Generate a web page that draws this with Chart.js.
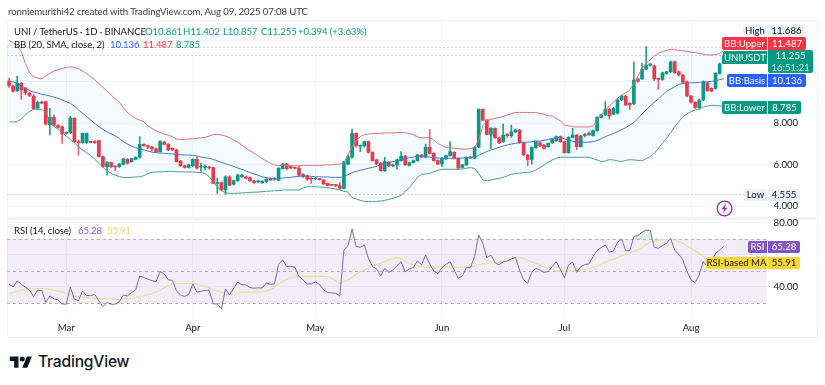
<!DOCTYPE html>
<html>
<head>
<meta charset="utf-8">
<title>UNIUSDT</title>
<script src="https://cdn.jsdelivr.net/npm/chart.js@4/dist/chart.umd.min.js"></script>
<style>
    html, body { margin: 0; padding: 0; background: #fff; }
    body { width: 825px; height: 385px; position: relative; overflow: hidden; font-family: Lato, sans-serif; color: #131722; }
    .t { position: absolute; white-space: nowrap; font-size: 9.6px; letter-spacing: -0.1px; line-height: 12px; }
    .tag { position: absolute; font-size: 9.6px; display: flex; align-items: center; justify-content: center; white-space: nowrap; }
    canvas { position: absolute; left: 0; }
    #panel { position: absolute; left: 7px; top: 20px; width: 811px; height: 318px; border: 1px solid #f1f2f5; box-sizing: border-box; border-radius: 3px; }
    #divider { position: absolute; left: 8px; top: 217px; width: 809px; height: 3px; background: #f1f3f8; }
    #logoText { position: absolute; left: 38px; top: 352px; font-family: Inter, sans-serif; font-weight: 500; font-size: 15.6px; line-height: 20px; letter-spacing: -0.2px; color: #131722; }
</style>
</head>
<body>
<div id="panel"></div>
<div id="divider"></div>
<canvas id="priceChart" width="825" height="207" style="top:12px"></canvas>
<canvas id="rsiChart" width="825" height="126" style="top:212px"></canvas>
<div id="overlay"></div>
<svg style="position:absolute;left:716px;top:200px" width="17" height="17" viewBox="0 0 17 17">
    <circle cx="8.5" cy="8.5" r="7.4" fill="none" stroke="#9c27b0" stroke-width="1.2"/>
    <path d="M10 3.8 L5.6 9.3 H8.1 L7 13.2 L11.4 7.7 H8.9 Z" fill="#9c27b0"/>
</svg>
<svg style="position:absolute;left:9px;top:354px" width="24" height="15" viewBox="0 0 36 24">
    <path d="M14 22H7V11H0V4h14v18zM28 22h-8l7.5-18h8L28 22z" fill="#131722"/>
    <circle cx="20" cy="8" r="4" fill="#131722"/>
</svg>
<div id="logoText">TradingView</div>

<script>
// --- Categories (daily, with empty days to the right of the last candle) ---
const days = [
    '02-15','02-16','02-17','02-18','02-19','02-20','02-21','02-22','02-23','02-24','02-25','02-26','02-27','02-28',
    '03-01','03-02','03-03','03-04','03-05','03-06','03-07','03-08','03-09','03-10','03-11','03-12','03-13','03-14','03-15','03-16','03-17','03-18','03-19','03-20','03-21','03-22','03-23','03-24','03-25','03-26','03-27','03-28','03-29','03-30','03-31',
    '04-01','04-02','04-03','04-04','04-05','04-06','04-07','04-08','04-09','04-10','04-11','04-12','04-13','04-14','04-15','04-16','04-17','04-18','04-19','04-20','04-21','04-22','04-23','04-24','04-25','04-26','04-27','04-28','04-29','04-30',
    '05-01','05-02','05-03','05-04','05-05','05-06','05-07','05-08','05-09','05-10','05-11','05-12','05-13','05-14','05-15','05-16','05-17','05-18','05-19','05-20','05-21','05-22','05-23','05-24','05-25','05-26','05-27','05-28','05-29','05-30','05-31',
    '06-01','06-02','06-03','06-04','06-05','06-06','06-07','06-08','06-09','06-10','06-11','06-12','06-13','06-14','06-15','06-16','06-17','06-18','06-19','06-20','06-21','06-22','06-23','06-24','06-25','06-26','06-27','06-28','06-29','06-30',
    '07-01','07-02','07-03','07-04','07-05','07-06','07-07','07-08','07-09','07-10','07-11','07-12','07-13','07-14','07-15','07-16','07-17','07-18','07-19','07-20','07-21','07-22','07-23','07-24','07-25','07-26','07-27','07-28','07-29','07-30','07-31',
    '08-01','08-02','08-03','08-04','08-05','08-06','08-07','08-08','08-09','08-10','08-11','08-12','08-13','08-14','08-15','08-16','08-17','08-18','08-19'
];
const monthNames = { '03': 'Mar', '04': 'Apr', '05': 'May', '06': 'Jun', '07': 'Jul', '08': 'Aug' };

// --- Candles ---
const opens = [
    10.02,9.78,9.56,9.91,9.67,9.43,9.30,8.71,9.01,9.03,
    7.92,8.27,7.89,7.82,7.53,7.53,8.22,7.10,7.05,7.05,
    7.10,7.10,7.15,6.38,5.90,6.09,5.91,5.90,6.01,6.25,
    6.14,6.25,6.35,6.97,6.91,6.84,6.75,6.62,7.07,6.97,
    6.78,6.70,6.17,5.94,5.86,5.94,6.25,5.88,5.86,5.86,
    5.85,5.08,5.13,4.77,5.41,5.05,5.22,5.41,5.41,5.37,
    5.21,5.16,5.13,5.17,5.30,5.29,5.25,5.80,6.02,5.90,
    5.85,5.82,5.52,5.46,5.33,5.30,5.30,5.25,5.09,5.03,
    5.01,4.98,4.85,6.02,6.35,7.50,6.88,6.89,7.10,6.59,
    6.22,6.06,5.70,6.11,5.93,5.98,6.19,6.41,5.96,6.09,
    6.19,6.46,6.35,6.83,6.54,6.19,6.02,6.27,6.43,6.59,
    6.30,5.86,5.98,6.35,6.30,6.83,8.66,8.14,7.45,7.74,
    7.29,7.10,7.42,7.39,7.57,7.66,7.05,6.46,6.25,6.81,
    7.05,6.92,6.86,7.05,7.15,7.34,7.10,6.57,7.31,7.42,
    6.86,7.45,7.44,7.39,7.63,8.27,8.39,8.66,8.43,8.47,
    9.11,9.30,8.95,8.92,10.12,10.12,10.60,10.78,10.75,10.15,
    10.10,10.39,10.47,10.95,10.47,10.31,9.99,9.30,9.00,8.74,
    9.11,9.94,9.67,9.67,10.39,10.861
];
const closes = [
    9.80,9.54,9.91,9.59,9.46,9.33,8.69,9.00,8.96,7.95,
    8.27,7.90,7.79,7.47,7.50,8.24,7.10,7.05,7.50,7.50,
    7.07,7.05,6.38,5.90,6.09,5.90,5.88,6.02,6.27,6.06,
    6.28,6.35,6.97,6.91,6.83,6.75,6.62,7.10,6.97,6.70,
    6.70,6.14,5.94,5.86,5.98,6.25,5.82,5.91,5.90,5.83,
    5.09,5.11,4.77,5.41,5.01,5.22,5.49,5.49,5.33,5.22,
    5.13,5.19,5.19,5.30,5.25,5.32,5.82,6.02,5.80,5.83,
    5.82,5.49,5.41,5.29,5.30,5.33,5.27,5.06,4.98,5.00,
    4.98,4.85,6.14,6.38,7.50,6.89,6.91,7.10,6.59,6.19,
    6.02,5.70,6.14,5.93,5.99,6.22,6.41,5.98,6.09,6.19,
    6.46,6.35,6.83,6.54,6.19,6.02,6.30,6.43,6.62,6.30,
    5.82,5.98,6.35,6.31,6.83,8.66,8.14,7.45,7.74,7.29,
    7.05,7.42,7.39,7.58,7.66,7.05,6.46,6.25,6.81,7.10,
    6.89,6.78,7.02,7.21,7.34,7.10,6.57,7.31,7.42,6.86,
    7.37,7.39,7.50,7.63,8.27,8.39,8.66,8.34,8.71,9.11,
    9.30,8.87,8.87,10.07,10.02,10.58,10.79,10.84,10.12,10.10,
    10.42,10.47,10.95,10.42,10.31,9.96,9.30,9.00,8.74,9.11,
    9.99,9.56,9.54,10.39,10.84,11.255
];
const highs = [
    10.15,9.83,10.26,9.96,9.72,9.48,9.37,9.04,9.06,9.06,
    8.71,8.39,7.92,7.86,7.58,8.31,8.26,7.18,7.53,7.53,
    7.13,7.15,7.18,6.41,6.14,6.12,5.94,6.06,6.31,6.28,
    6.31,6.38,7.34,7.00,6.94,6.88,6.80,7.15,7.13,7.02,
    6.81,6.75,6.20,5.98,6.02,6.28,6.38,6.06,5.98,5.93,
    5.88,5.33,5.16,5.45,5.45,5.25,5.53,5.54,5.45,5.40,
    5.24,5.22,5.22,5.35,5.37,5.37,5.85,6.06,6.06,5.93,
    5.88,5.94,5.56,5.49,5.37,5.36,5.33,5.28,5.11,5.05,
    5.03,5.13,6.17,6.46,7.71,7.53,6.95,7.13,7.12,6.62,
    6.25,6.09,6.35,6.14,6.02,6.26,6.62,6.44,6.12,6.22,
    6.50,6.49,6.99,7.69,6.57,6.22,6.33,6.46,7.10,6.62,
    6.33,6.01,6.38,6.38,6.86,8.68,8.68,8.17,7.78,7.77,
    7.32,7.95,7.50,7.90,7.72,7.70,7.08,6.49,6.85,7.14,
    7.10,6.97,7.05,7.25,7.37,7.37,7.13,7.35,7.74,7.45,
    7.40,7.50,7.58,7.66,8.31,8.43,9.03,8.70,8.75,9.15,
    9.33,9.33,8.98,10.95,10.16,10.87,11.686,10.88,10.79,10.18,
    10.46,10.50,11.00,11.00,10.52,10.35,10.03,9.33,9.03,9.15,
    10.03,9.98,9.70,10.43,10.90,11.402
];
const lows = [
    9.72,9.49,9.51,9.14,9.35,9.27,8.66,8.63,8.92,7.90,
    7.42,7.86,7.74,7.02,7.45,7.50,7.07,6.46,7.02,7.02,
    7.04,7.02,6.35,5.86,5.49,5.85,5.70,5.86,5.98,6.02,
    6.11,6.22,6.31,6.88,6.76,6.67,6.57,6.59,6.94,6.67,
    6.67,6.11,5.91,5.82,5.82,5.91,5.78,5.66,5.74,5.78,
    5.06,4.61,4.74,4.555,4.98,5.01,5.19,5.38,5.30,5.19,
    5.09,5.11,5.09,5.14,5.22,5.25,5.22,5.77,5.74,5.80,
    5.78,5.46,5.38,5.25,5.09,5.27,5.25,5.03,4.96,4.98,
    4.92,4.80,4.82,5.98,6.31,6.84,6.62,6.85,6.55,6.16,
    6.00,5.67,5.67,5.90,5.88,5.77,6.16,5.95,5.92,6.06,
    6.16,6.33,6.32,6.51,6.16,5.99,5.90,6.25,6.40,6.27,
    5.75,5.83,5.95,6.28,6.27,6.80,8.11,7.42,6.78,7.26,
    7.00,7.06,7.30,7.30,7.54,7.02,6.43,5.93,6.02,6.78,
    6.86,6.74,6.83,7.02,7.12,7.07,6.54,6.54,7.28,6.70,
    6.83,7.32,7.40,7.36,7.60,8.24,8.35,8.18,8.40,8.43,
    9.08,8.84,8.66,8.88,9.97,10.10,10.56,10.74,10.05,9.62,
    10.06,10.35,10.43,10.38,10.27,9.92,9.26,8.95,8.70,8.70,
    9.08,9.52,9.50,9.63,10.35,10.857
];

// --- Bollinger Bands ---
const bbUpper = [
    11.97,11.87,11.73,11.44,10.88,10.43,10.23,10.17,10.12,10.27,
    10.39,10.51,10.57,10.63,10.68,10.71,10.68,10.62,10.51,10.38,
    10.23,10.07,9.91,9.72,9.54,9.35,9.17,9.00,8.74,8.51,
    8.34,8.22,8.14,8.06,7.86,7.74,7.63,7.55,7.47,7.42,
    7.34,7.23,7.21,7.21,7.23,7.24,7.26,7.28,7.31,7.37,
    7.44,7.45,7.42,7.37,7.29,7.18,7.08,6.94,6.78,6.67,
    6.54,6.41,6.28,6.18,6.06,5.98,5.94,5.98,5.96,5.94,
    5.94,5.94,5.96,5.96,5.96,5.96,5.96,5.98,5.98,5.99,
    6.01,6.02,6.09,6.46,6.86,7.15,7.34,7.44,7.47,7.49,
    7.50,7.50,7.52,7.52,7.53,7.53,7.55,7.53,7.50,7.44,
    7.34,7.28,7.29,7.31,7.18,7.02,6.91,6.83,6.80,6.78,
    6.76,6.75,6.75,6.76,6.83,7.18,7.86,8.11,8.18,8.22,
    8.27,8.31,8.39,8.45,8.51,8.51,8.51,8.51,8.51,8.50,
    8.47,8.42,8.35,8.34,8.22,8.11,7.90,7.86,7.82,7.81,
    7.81,7.81,7.81,7.86,8.11,8.39,8.63,8.82,9.01,9.19,
    9.35,9.46,9.59,9.91,10.27,10.63,10.88,11.04,11.25,11.36,
    11.44,11.50,11.55,11.53,11.50,11.49,11.45,11.42,11.39,11.36,
    11.31,11.28,11.28,11.29,11.36,11.487
];
const bbBasis = [
    10.02,9.98,9.91,9.78,9.69,9.56,9.49,9.45,9.38,9.35,
    9.30,9.25,9.19,9.11,9.03,8.95,8.82,8.63,8.47,8.31,
    8.14,7.98,7.82,7.69,7.57,7.47,7.39,7.26,7.10,6.99,
    6.89,6.81,6.75,6.70,6.65,6.60,6.57,6.55,6.54,6.52,
    6.51,6.49,6.47,6.46,6.46,6.44,6.41,6.36,6.33,6.30,
    6.25,6.18,6.10,6.04,5.98,5.91,5.83,5.77,5.69,5.61,
    5.54,5.48,5.41,5.37,5.33,5.30,5.30,5.35,5.37,5.38,
    5.41,5.43,5.45,5.45,5.43,5.41,5.41,5.40,5.40,5.38,
    5.38,5.38,5.41,5.51,5.61,5.67,5.72,5.77,5.82,5.86,
    5.91,5.99,6.06,6.10,6.14,6.17,6.22,6.27,6.33,6.36,
    6.39,6.41,6.38,6.36,6.33,6.31,6.30,6.30,6.30,6.30,
    6.30,6.31,6.33,6.35,6.36,6.44,6.54,6.62,6.70,6.76,
    6.83,6.89,6.94,6.99,7.02,7.05,7.07,7.08,7.10,7.12,
    7.13,7.16,7.21,7.26,7.29,7.31,7.24,7.18,7.12,7.07,
    7.07,7.07,7.08,7.10,7.16,7.24,7.34,7.42,7.49,7.58,
    7.68,7.78,7.90,8.02,8.22,8.43,8.63,8.82,9.00,9.16,
    9.35,9.53,9.64,9.75,9.86,9.90,9.93,9.94,9.94,9.96,
    9.98,9.99,10.01,10.04,10.09,10.136
];
const bbLower = [
    8.06,8.05,8.06,8.19,8.39,8.55,8.66,8.67,8.66,8.50,
    8.06,7.82,7.71,7.55,7.37,7.21,7.05,6.86,6.70,6.57,
    6.43,6.25,6.06,5.86,5.70,5.57,5.49,5.41,5.38,5.37,
    5.38,5.40,5.41,5.46,5.57,5.62,5.64,5.65,5.65,5.67,
    5.67,5.65,5.65,5.64,5.64,5.64,5.62,5.61,5.57,5.41,
    5.17,4.93,4.74,4.64,4.61,4.61,4.61,4.63,4.64,4.66,
    4.66,4.67,4.69,4.71,4.72,4.74,4.74,4.77,4.77,4.77,
    4.77,4.77,4.87,4.92,4.93,4.93,4.92,4.90,4.88,4.85,
    4.82,4.77,4.71,4.67,4.40,4.34,4.27,4.22,4.21,4.21,
    4.22,4.24,4.27,4.32,4.37,4.43,4.51,4.69,4.88,5.12,
    5.38,5.53,5.54,5.57,5.65,5.72,5.77,5.77,5.77,5.77,
    5.77,5.78,5.82,5.85,5.80,5.57,5.25,5.22,5.25,5.30,
    5.33,5.38,5.45,5.53,5.56,5.59,5.61,5.62,5.65,5.74,
    5.85,5.98,6.10,6.22,6.30,6.35,6.35,6.35,6.35,6.35,
    6.35,6.35,6.35,6.28,6.22,6.14,6.17,6.23,6.22,6.17,
    6.14,6.20,6.23,6.22,6.20,6.18,6.28,6.38,6.54,6.78,
    7.02,7.26,7.53,7.82,8.06,8.31,8.43,8.55,8.63,8.66,
    8.76,8.82,8.85,8.85,8.82,8.785
];

// --- RSI ---
const rsiValues = [
    41.7,40,43.8,41.7,39.8,38.1,34,37.9,37.9,30.4,
    34.4,32.5,31.9,29.4,29.2,40,32.3,31.5,37.5,34.6,
    34.6,35.4,31.3,27.7,30.2,29.2,29.2,30.8,35,34.4,
    36.5,38.1,46.9,46,44.8,44,43.3,49.6,48.3,44.4,
    44.2,37.5,35,34,35.4,41.9,36.7,37.3,37.9,37.9,
    29.4,29.4,26.3,38.8,35,39.2,43.1,41.3,41.3,39.6,
    39.2,39.4,39.4,42.5,41.7,41.9,54.2,56.9,52.7,52.9,
    52.3,46.5,44.4,41.9,41.9,43.1,41.7,38.3,36.5,36.3,
    36,34.4,63.1,65.8,76.3,65.2,64.8,66.3,57.9,52.7,
    51.3,46.9,51.7,49.2,50.6,53.3,55.8,49.4,51.3,52.1,
    56.3,53.8,60,54.4,50,48.3,52.1,54.2,55.8,50.6,
    45.4,46.9,52.1,52.1,59,72.5,67.3,58.3,60,55.2,
    53.8,55.8,56.3,57.5,58.5,50.6,44.4,42.3,49.2,51.7,
    50.6,49.2,49.6,52.7,55.8,51,45.8,53.8,55.4,49.2,
    52.7,54,54.4,59,62.9,64.6,66.3,61.7,62.5,67.9,
    70,62.7,62.7,71.5,72.1,74.2,75.6,75.2,64.8,64.2,
    65.8,67.3,70.4,62.9,60.4,56.9,49.6,44.4,42.7,47.5,
    55.8,52.7,55.8,61,63.1,65.28
];
const rsiMa = [
    35.6,36.5,37.3,37.7,38.1,38.5,38.8,38.8,39,39,
    38.5,37.9,37.3,36.7,35.8,35,34.4,34,33.5,33.3,
    33.1,33.1,32.9,32.9,32.7,32.5,32.3,32.3,32.5,32.7,
    32.9,33.3,34,34.6,35,35.8,36.9,38.1,39.4,40.8,
    42.1,42.3,42.3,42.3,42.3,42.3,41.7,41,40.4,39.6,
    38.5,37.5,36.7,35.8,35,35.4,36,36.7,36.7,36.9,
    36.9,36.9,37.1,37.5,38.3,39.8,41.9,43.3,44.8,45.8,
    46.3,46.5,46.7,46.7,46.7,46.7,46.7,46.7,46.5,45.4,
    43.8,42.3,43.3,44.4,46,47.9,49.6,50.6,51.7,53.1,
    53.8,54.8,55.8,56.9,57.9,58.3,57.9,56.3,54.6,53.8,
    53.3,52.7,52.3,52.3,52.5,52.7,52.7,52.7,52.5,52.3,
    52.3,52.3,52.3,52.5,53.1,53.8,54.4,54.6,55,55.4,
    55.8,56.5,56.9,57.5,58.1,58.3,57.9,56.7,55.6,54.6,
    53.8,52.5,51.5,50.6,50,50,50,50,50,50,
    50.6,51,51.7,52.3,53.1,54.2,55.4,56.7,57.3,58.3,
    59.6,60.4,61.3,62.3,63.3,64.8,66.5,67.9,68.8,69.2,
    69.4,69.8,69.8,69.2,68.3,67.3,65.6,64,62.5,61,
    59.2,57.9,57.1,56.5,56,55.91
];

// --- Reference levels and axis ticks ---
const priceLines = [11.686, 11.255, 4.555];
const priceTicks = [12, 10, 8, 6, 4];
const priceTickLabels = [8, 6, 4];
const rsiBand = [70, 30];
const rsiLevels = [70, 50, 30];
const rsiTicks = [80, 60, 40];
const rsiTickLabels = [80, 40];

// --- Colors ---
const colors = {
    up: '#089981',
    down: '#f23645',
    wickUp: '#2a9d88',
    wickDown: '#e0606c',
    upper: '#d9737c',
    basis: '#4a76c9',
    lower: '#4ba08f',
    bandFill: 'rgba(33, 150, 243, 0.05)',
    rsi: '#7e6bb5',
    rsiMa: '#f3dca0',
    rsiBandFill: 'rgba(126, 87, 194, 0.1)',
    grid: '#f4f5f7',
    dash: '#d3d5db',
    text: '#131722'
};

const axisFont = { family: 'Lato, sans-serif', size: 9.6 };

const monthTick = (value) => {
    const day = days[value];
    return day.endsWith('-01') && monthNames[day.slice(0, 2)] ? monthNames[day.slice(0, 2)] : null;
};

// keeps the plot area exactly where layout.padding puts it
const fitY = (scale) => { scale.width = 51.4; scale.paddingTop = 0; scale.paddingBottom = 0; };
const fitX = (height) => (scale) => { scale.height = height; scale.paddingLeft = 0; scale.paddingRight = 0; };

// --- Dashed levels and RSI band, drawn through the scales ---
const priceLinesPlugin = {
    id: 'priceLines',
    beforeDatasetsDraw(chart) {
        const { ctx, chartArea, scales } = chart;
        ctx.save();
        ctx.strokeStyle = colors.dash;
        ctx.lineWidth = 1;
        ctx.setLineDash([2, 2]);
        priceLines.forEach(level => {
            const y = Math.round(scales.y.getPixelForValue(level)) + 0.5;
            ctx.beginPath();
            ctx.moveTo(chartArea.left, y);
            ctx.lineTo(chartArea.right, y);
            ctx.stroke();
        });
        ctx.restore();
    }
};

const rsiBandPlugin = {
    id: 'rsiBand',
    beforeDatasetsDraw(chart) {
        const { ctx, chartArea, scales } = chart;
        const top = scales.y.getPixelForValue(rsiBand[0]);
        const bottom = scales.y.getPixelForValue(rsiBand[1]);
        ctx.save();
        ctx.fillStyle = colors.rsiBandFill;
        ctx.fillRect(chartArea.left, top, chartArea.right - chartArea.left, bottom - top);
        ctx.strokeStyle = '#b5afc7';
        ctx.lineWidth = 1;
        ctx.setLineDash([3, 3]);
        rsiLevels.forEach(level => {
            const y = Math.round(scales.y.getPixelForValue(level)) + 0.5;
            ctx.beginPath();
            ctx.moveTo(chartArea.left, y);
            ctx.lineTo(chartArea.right, y);
            ctx.stroke();
        });
        ctx.restore();
    }
};

// --- Price pane ---
const isUp = (i) => closes[i] >= opens[i];

new Chart(document.getElementById('priceChart'), {
    type: 'bar',
    data: {
        labels: days,
        datasets: [
            {
                type: 'line', label: 'BB Upper', data: bbUpper, borderColor: colors.upper, borderWidth: 1,
                pointRadius: 0, tension: 0, fill: { target: '+2' }, backgroundColor: colors.bandFill, order: 1
            },
            {
                type: 'line', label: 'BB Basis', data: bbBasis, borderColor: colors.basis, borderWidth: 1,
                pointRadius: 0, tension: 0, fill: false, order: 1
            },
            {
                type: 'line', label: 'BB Lower', data: bbLower, borderColor: colors.lower, borderWidth: 1,
                pointRadius: 0, tension: 0, fill: false, order: 1
            },
            {
                label: 'Wicks', data: highs.map((h, i) => [lows[i], h]), barThickness: 1, minBarLength: 1,
                backgroundColor: highs.map((h, i) => isUp(i) ? colors.wickUp : colors.wickDown), order: 3
            },
            {
                label: 'Bodies', data: opens.map((o, i) => [o, closes[i]]), barThickness: 3, minBarLength: 1,
                backgroundColor: opens.map((o, i) => isUp(i) ? colors.up : colors.down), order: 2
            }
        ]
    },
    options: {
        responsive: false,
        animation: false,
        layout: { padding: { left: 7, right: 7, top: 9, bottom: 2 } },
        datasets: { bar: { grouped: false } },
        plugins: { legend: { display: false }, tooltip: { enabled: false } },
        scales: {
            x: {
                offset: true,
                afterFit: fitX(0),
                border: { display: false },
                grid: { color: colors.grid, offset: false, drawTicks: false },
                ticks: { display: false, autoSkip: false, callback: monthTick }
            },
            y: {
                position: 'right',
                min: 3.47,
                max: 12.916,
                afterFit: fitY,
                afterBuildTicks: (scale) => { scale.ticks = priceTicks.map(value => ({ value })); },
                border: { display: false },
                grid: { color: colors.grid, drawTicks: false },
                ticks: {
                    autoSkip: false, padding: 7, crossAlign: 'near',
                    color: colors.text, font: axisFont,
                    callback: (value) => priceTickLabels.includes(value) ? value.toFixed(3) : ''
                }
            }
        }
    },
    plugins: [priceLinesPlugin]
});

// --- RSI pane ---
new Chart(document.getElementById('rsiChart'), {
    type: 'line',
    data: {
        labels: days,
        datasets: [
            {
                label: 'RSI', data: rsiValues, borderColor: colors.rsi, borderWidth: 1, pointRadius: 0, tension: 0, order: 1,
                fill: { target: { value: 70 }, above: 'rgba(76, 175, 80, 0.18)', below: 'rgba(0, 0, 0, 0)' }
            },
            {
                label: 'RSI-based MA', data: rsiMa, borderColor: colors.rsiMa, borderWidth: 1.3, pointRadius: 0, tension: 0, order: 2,
                fill: false
            }
        ]
    },
    options: {
        responsive: false,
        animation: false,
        layout: { padding: { left: 7, right: 7, top: 10, bottom: 0 } },
        plugins: { legend: { display: false }, tooltip: { enabled: false } },
        scales: {
            x: {
                offset: true,
                afterFit: fitX(20),
                border: { display: false },
                grid: { color: colors.grid, offset: false, drawTicks: false },
                ticks: { autoSkip: false, maxRotation: 0, padding: 4, color: colors.text, font: axisFont, callback: monthTick }
            },
            y: {
                position: 'right',
                min: 20.6,
                max: 80.6,
                afterFit: fitY,
                afterBuildTicks: (scale) => { scale.ticks = rsiTicks.map(value => ({ value })); },
                border: { display: false },
                grid: { color: colors.grid, drawTicks: false },
                ticks: {
                    autoSkip: false, padding: 7, crossAlign: 'near',
                    color: colors.text, font: axisFont,
                    callback: (value) => rsiTickLabels.includes(value) ? value.toFixed(2) : ''
                }
            }
        }
    },
    plugins: [rsiBandPlugin]
});

// --- Header text and price tags ---
const overlay = document.getElementById('overlay');

const addText = (left, top, text, color) => {
    const el = document.createElement('div');
    el.className = 't';
    el.style.left = left + 'px';
    el.style.top = top + 'px';
    if (color) el.style.color = color;
    el.textContent = text;
    overlay.appendChild(el);
};

const addTag = (left, top, width, height, text, background, color, radius) => {
    const el = document.createElement('div');
    el.className = 'tag';
    el.style.cssText = `left:${left}px;top:${top}px;width:${width}px;height:${height}px;background:${background};color:${color};border-radius:${radius || '0'}`;
    el.textContent = text;
    overlay.appendChild(el);
};

addText(8, 6, 'ronniemurithi42 created with TradingView.com, Aug 09, 2025 07:08 UTC', '#3a3e4a');
addText(14, 26, 'UNI / TetherUS · 1D · BINANCE');
addText(145, 26, 'O10.861', colors.up);
addText(183, 26, 'H11.402', colors.up);
addText(223, 26, 'L10.857', colors.up);
addText(261, 26, 'C11.255', colors.up);
addText(298, 26, '+0.394 (+3.63%)', colors.up);
addText(14, 39, 'BB (20, SMA, close, 2)');
addText(110, 39, '10.136', '#2962ff');
addText(143, 39, '11.487', colors.down);
addText(176, 39, '8.785', colors.up);
addText(14, 225, 'RSI (14, close)');
addText(78, 225, '65.28', '#7e57c2');
addText(107, 225, '55.91', '#e9d06f');

addTag(743, 25, 24, 10.5, 'High', '#eaf1f9', colors.text, '2px 0 0 2px');
addTag(768, 25, 37, 10.5, '11.686', '#eaf1f9', colors.text, '0 2px 2px 0');
addTag(722, 37, 45, 12.5, 'BB:Upper', colors.down, '#fff', '2px 0 0 2px');
addTag(768, 37, 38, 12.5, '11.487', colors.down, '#fff', '0 2px 2px 0');
addTag(723, 50.5, 44, 13, 'UNIUSDT', colors.up, '#fff', '2px 0 0 2px');
addTag(768, 50, 45, 11.5, '11.255', colors.up, '#fff', '0 2px 0 0');
addTag(768, 61.5, 45, 11.5, '16:51:21', colors.up, '#cfeee8', '0 0 2px 2px');
addTag(727, 74, 40, 12.7, 'BB:Basis', '#2962ff', '#fff', '2px 0 0 2px');
addTag(768, 74, 38, 12.7, '10.136', '#2962ff', '#fff', '0 2px 2px 0');
addTag(722, 101, 45, 13, 'BB:Lower', colors.up, '#fff', '2px 0 0 2px');
addTag(768, 101, 33, 13, '8.785', colors.up, '#fff', '0 2px 2px 0');
addTag(744, 189, 23, 11.7, 'Low', '#eaf1f9', colors.text, '2px 0 0 2px');
addTag(768, 189, 32, 11.7, '4.555', '#eaf1f9', colors.text, '0 2px 2px 0');
addTag(748, 240.7, 19, 12, 'RSI', '#7e57c2', '#fff', '2px 0 0 2px');
addTag(768, 240.7, 32, 12, '65.28', '#7e57c2', '#fff', '0 2px 2px 0');
addTag(706, 256.7, 61, 12.3, 'RSI-based MA', '#fdd835', colors.text, '2px 0 0 2px');
addTag(768, 256.7, 32, 12.3, '55.91', '#fdd835', colors.text, '0 2px 2px 0');
</script>
</body>
</html>
